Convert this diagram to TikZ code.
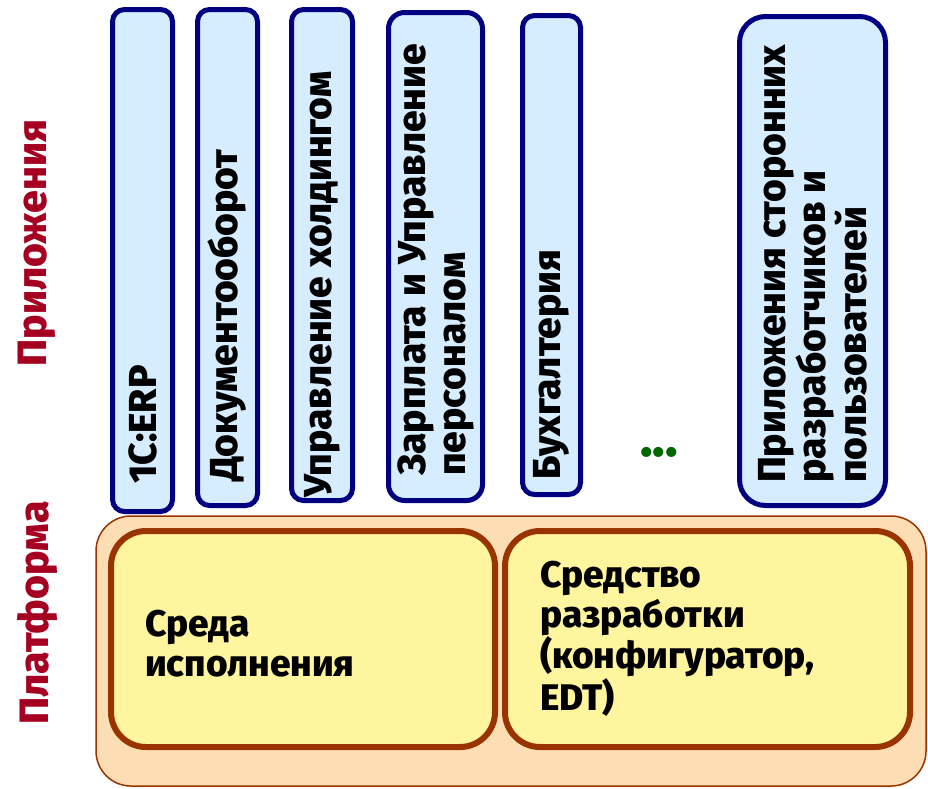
\documentclass[tikz,border=0pt]{standalone}
\usepackage{fontspec}
\setmainfont{Fira Sans}[BoldFont={Fira Sans ExtraBold}]
\usetikzlibrary{positioning}

% colours of the two layers
\definecolor{appnavy}{HTML}{000080}
\definecolor{appfill}{HTML}{D6ECFF}
\definecolor{platfill}{HTML}{FDDEB4}
\definecolor{platline}{HTML}{993300}
\definecolor{toolfill}{HTML}{FFF59F}
\definecolor{layerred}{HTML}{A50021}
\definecolor{dotgreen}{HTML}{006600}

\newcommand{\bigbold}{\fontsize{37}{40}\selectfont\bfseries}
\newcommand{\appbold}{\fontsize{39}{40}\selectfont\bfseries}

\tikzset{
    appbox/.style={draw=appnavy, fill=appfill, line width=5pt,
        rounded corners=12pt, inner sep=0pt},
    apptext/.style={rotate=90, anchor=west, align=left,
        font=\appbold, inner sep=0pt},
    platbox/.style={draw=platline, fill=platfill, line width=1.5pt,
        rounded corners=35pt, inner sep=0pt},
    toolbox/.style={draw=platline, fill=toolfill, line width=6pt,
        rounded corners=35pt, inner sep=0pt},
    tooltext/.style={anchor=north west, align=left,
        font=\bigbold, inner sep=0pt},
    layerlabel/.style={rotate=90, font=\fontsize{41}{44}\selectfont\bfseries,
        text=layerred}
}

\begin{document}
\begin{tikzpicture}[x=1pt,y=-1pt]

% Fix the page to the size of the reference.
\useasboundingbox (0,0) rectangle (928,788);

%
% Platform layer.
% Draw the outer peach body first.
\node (platform) [platbox, minimum width=830pt, minimum height=270pt]
    at (511,651) {};

% Two tools inside the platform.
\node (runtime) [toolbox, minimum width=384pt, minimum height=216pt]
    at (303,639) {};
\node (devtool) [toolbox, minimum width=405pt, minimum height=216pt]
    at (707.5,639) {};

% Texts of the tools.
\node (runtimetext) [tooltext] at (145,610)
    {Среда\\исполнения};
\node (devtooltext) [tooltext] at (540,561)
    {Средство\\разработки\\(конфигуратор,\\EDT)};

%
% Application layer.
% Loop for each application box: name/centre x/centre y/width/height.
\foreach \n/\cx/\cy/\w/\h/\r in {
        erp/142.5/260.5/60/502/12,
        docs/227.5/257.5/60/496/12,
        holding/322/255/61/491/12,
        salary/435.5/256.5/94/488/16,
        account/551.5/255/58/479/12,
        thirdparty/812.5/261/146/489/26} {

    % Draw each box.
    \node (\n) [appbox, rounded corners=\r pt,
        minimum width=\w pt, minimum height=\h pt] at (\cx,\cy) {};
}

% Texts of the applications, read from bottom to top.
\node (erptext) [apptext] at (erp.center |- 0,484) {1С:ERP};
\node (docstext) [apptext] at (docs.center |- 0,482) {Документооборот};
\node (holdingtext) [apptext] at (holding.center |- 0,498)
    {Управление холдингом};
\node (salarytext) [apptext] at (salary.center |- 0,476)
    {Зарплата и Управление\\персоналом};
\node (accounttext) [apptext] at (account.center |- 0,480) {Бухгалтерия};
\node (thirdpartytext) [apptext] at (thirdparty.center |- 0,483)
    {Приложения сторонних\\разработчиков и\\пользователей};

% More applications.
\node (more) [font=\fontsize{52}{52}\selectfont\bfseries, text=dotgreen]
    at (659,452) {...};

%
% Layer names on the left.
\node (applabel) [layerlabel] at (37,243) {Приложения};
\node (platlabel) [layerlabel] at (37,613) {Платформа};

\end{tikzpicture}
\end{document}
